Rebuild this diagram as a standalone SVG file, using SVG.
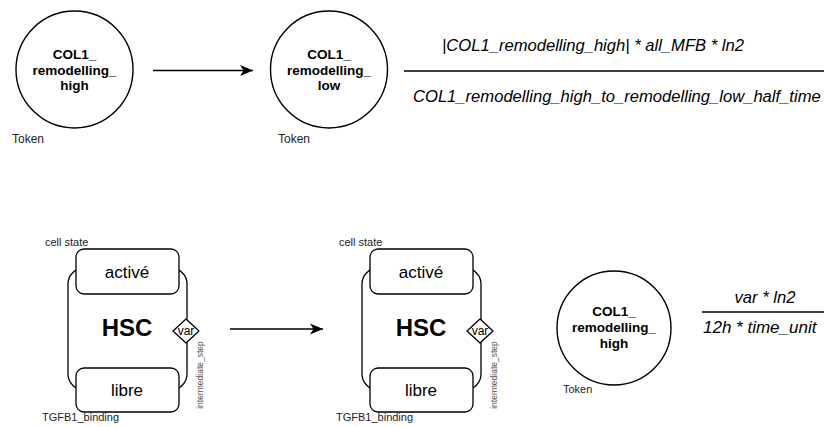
<svg xmlns="http://www.w3.org/2000/svg" width="824" height="427" viewBox="0 0 824 427">
<defs>
<style>
text{font-family:"Liberation Sans",Arial,sans-serif;fill:#000}
.tok{fill:#fff;stroke:#000;stroke-width:1.4}
.ttl{font-weight:bold;font-size:13.5px;text-anchor:middle}
.lbl{font-size:12px;fill:#222}
.frac{font-style:italic;font-size:16.6px}
.edge{fill:none;stroke:#000;stroke-width:1.4}
.box{fill:#fff;stroke:#000;stroke-width:1.3}
.st{font-size:17px;text-anchor:middle}
.hsc{font-size:24px;font-weight:bold;text-anchor:middle}
.small{font-size:11px;fill:#222}
.step{font-size:8.5px;fill:#555;text-anchor:middle}
</style>
<marker id="arr" viewBox="0 0 14 12" refX="13" refY="6" markerWidth="14" markerHeight="12" markerUnits="userSpaceOnUse" orient="auto">
<path d="M0,0.5 L13,6 L0,11.5 L3.5,6 Z" fill="#000"/>
</marker>
<g id="hscTpl">
<rect x="68" y="268" width="119" height="122" rx="16" ry="16" class="box"/>
<rect x="76" y="249" width="103" height="45" rx="8" ry="8" class="box"/>
<rect x="76" y="368" width="103" height="44" rx="8" ry="8" class="box"/>
<text x="127" y="277.5" class="st">activé</text>
<text x="127" y="396" class="st">libre</text>
<text x="127" y="336" class="hsc">HSC</text>
<path d="M186,319 L199,331 L186,343 L173,331 Z" fill="#fff" stroke="#000" stroke-width="1.3" stroke-linejoin="round"/>
<text x="186" y="335" font-size="12" text-anchor="middle">var</text>
<text transform="translate(203,375) rotate(-90)" class="step">intermediate_step</text>
<text x="45" y="246" class="small">cell state</text>
<text x="42" y="421" class="small">TGFB1_binding</text>
</g>
</defs>

<g id="connectors">
<line x1="153" y1="70.5" x2="253" y2="70.5" class="edge" marker-end="url(#arr)"/>
<line x1="230" y1="329" x2="323" y2="329" class="edge" marker-end="url(#arr)"/>
</g>

<g id="col1_high_top">
<circle cx="74.5" cy="69.5" r="58.5" class="tok"/>
<text x="74.5" y="59" class="ttl">COL1_</text>
<text x="74.5" y="75" class="ttl">remodelling_</text>
<text x="74.5" y="90" class="ttl">high</text>
<text x="12" y="143" class="lbl">Token</text>
</g>

<g id="col1_low">
<circle cx="329" cy="69.5" r="58.5" class="tok"/>
<text x="329" y="59" class="ttl">COL1_</text>
<text x="329" y="75" class="ttl">remodelling_</text>
<text x="329" y="90" class="ttl">low</text>
<text x="278" y="143" class="lbl">Token</text>
</g>

<g id="rate_top">
<text x="442" y="51" class="frac">|COL1_remodelling_high| * all_MFB * ln2</text>
<line x1="404" y1="71" x2="824" y2="71" stroke="#000" stroke-width="1.6"/>
<text x="413" y="102" class="frac">COL1_remodelling_high_to_remodelling_low_half_time</text>
</g>

<g id="hsc1">
<use href="#hscTpl"/>
</g>

<g id="hsc2">
<use href="#hscTpl" transform="translate(294,0)"/>
</g>

<g id="col1_high_bottom">
<circle cx="614" cy="328" r="57" class="tok"/>
<text x="614" y="316" class="ttl">COL1_</text>
<text x="614" y="332" class="ttl">remodelling_</text>
<text x="614" y="348" class="ttl">high</text>
<text x="563" y="393" class="small">Token</text>
</g>

<g id="rate_bottom">
<text x="765" y="303" class="frac" text-anchor="middle" font-size="17">var * ln2</text>
<line x1="702" y1="312" x2="824" y2="312" stroke="#000" stroke-width="1.6"/>
<text x="703" y="333" class="frac" style="font-size:17px">12h * time_unit</text>
</g>
</svg>
